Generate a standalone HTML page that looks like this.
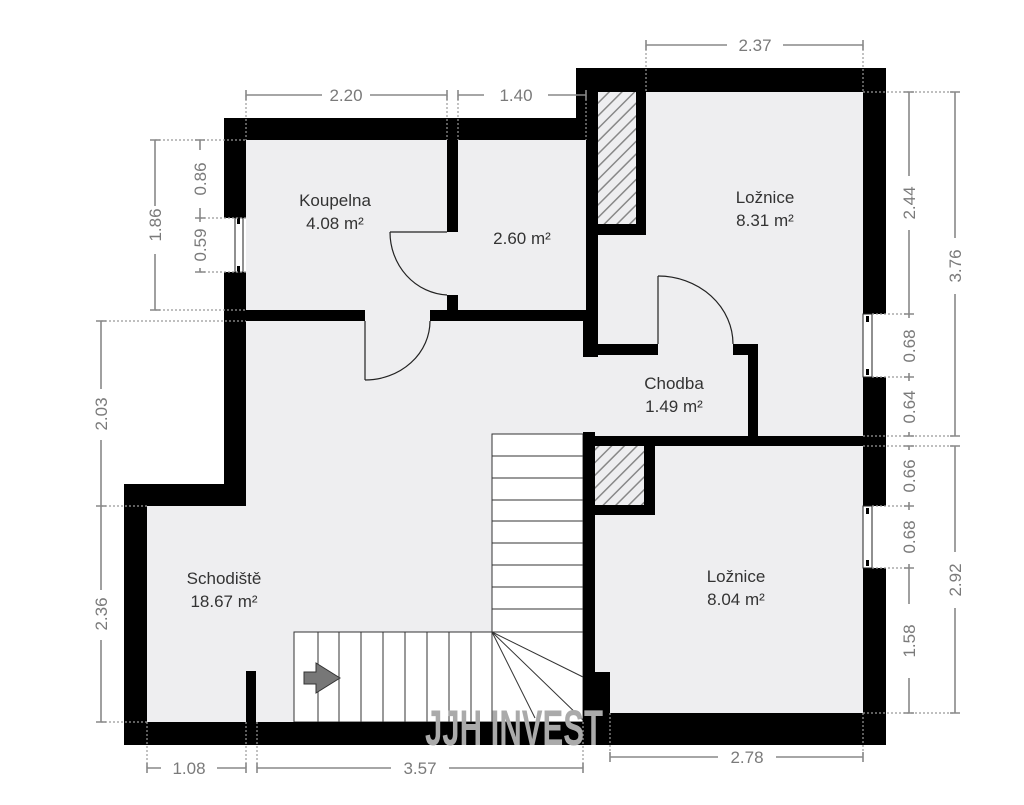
<!DOCTYPE html>
<html><head><meta charset="utf-8"><style>
html,body{margin:0;padding:0;background:#fff;}
svg{display:block;}
.lbl{font-family:"Liberation Sans",sans-serif;font-size:17px;fill:#333;text-anchor:middle;}
.dt{font-family:"Liberation Sans",sans-serif;font-size:17px;fill:#7a7a7a;text-anchor:middle;}
.dl{stroke:#888;stroke-width:1.6;fill:none;}
.dot{stroke:#999;stroke-width:1.2;stroke-dasharray:2 2;fill:none;}
.st{stroke:#333;stroke-width:1;fill:none;}
</style></head><body>
<svg width="1024" height="805" viewBox="0 0 1024 805" xmlns="http://www.w3.org/2000/svg">
<defs>
<pattern id="h" width="9" height="9" patternUnits="userSpaceOnUse" patternTransform="rotate(45)">
<rect width="9" height="9" fill="#eeeef0"/><line x1="0" y1="0" x2="0" y2="9" stroke="#888" stroke-width="3"/>
</pattern>
</defs>
<rect width="1024" height="805" fill="#fff"/>
<polygon points="246,140 586,140 586,92 863,92 863,713 610,713 610,722 147,722 147,506 246,506" fill="#eeeef0"/>
<rect x="492" y="434" width="91" height="198" fill="#fff" stroke="#333" stroke-width="1"/>
<rect x="294" y="632" width="289" height="90" fill="#fff" stroke="#333" stroke-width="1"/>
<g class="st">
<line x1="492" y1="456" x2="583" y2="456"/><line x1="492" y1="478" x2="583" y2="478"/>
<line x1="492" y1="500" x2="583" y2="500"/><line x1="492" y1="521" x2="583" y2="521"/>
<line x1="492" y1="543" x2="583" y2="543"/><line x1="492" y1="565" x2="583" y2="565"/>
<line x1="492" y1="587" x2="583" y2="587"/><line x1="492" y1="609" x2="583" y2="609"/>
<line x1="318" y1="632" x2="318" y2="722"/><line x1="339" y1="632" x2="339" y2="722"/>
<line x1="361" y1="632" x2="361" y2="722"/><line x1="383" y1="632" x2="383" y2="722"/>
<line x1="405" y1="632" x2="405" y2="722"/><line x1="427" y1="632" x2="427" y2="722"/>
<line x1="449" y1="632" x2="449" y2="722"/><line x1="471" y1="632" x2="471" y2="722"/>
<line x1="492" y1="632" x2="492" y2="722"/>
<line x1="492" y1="632" x2="583" y2="677"/><line x1="492" y1="632" x2="583" y2="720"/>
<line x1="492" y1="632" x2="535" y2="718"/>
</g>
<polygon points="304,672 316,672 316,663 340,678 316,693 316,684 304,684" fill="#777" stroke="#333" stroke-width="1"/>
<rect x="598" y="92" width="38" height="132" fill="url(#h)"/>
<rect x="594" y="446" width="50" height="59" fill="url(#h)"/>
<g fill="#000">
<rect x="224" y="118" width="362" height="22"/>
<rect x="576" y="68" width="310" height="24"/>
<rect x="576" y="68" width="22" height="72"/>
<rect x="224" y="118" width="22" height="100"/>
<rect x="224" y="272" width="22" height="234"/>
<rect x="124" y="484" width="122" height="22"/>
<rect x="124" y="484" width="23" height="261"/>
<rect x="124" y="722" width="486" height="23"/>
<rect x="583" y="713" width="303" height="32"/>
<rect x="863" y="68" width="23" height="246"/>
<rect x="863" y="377" width="23" height="129"/>
<rect x="863" y="568" width="23" height="177"/>
<rect x="586" y="92" width="12" height="265"/>
<rect x="583" y="320" width="15" height="37"/>
<rect x="636" y="92" width="10" height="143"/>
<rect x="598" y="224" width="48" height="11"/>
<rect x="598" y="344" width="60" height="11"/>
<rect x="733" y="344" width="25" height="11"/>
<rect x="748" y="344" width="10" height="92"/>
<rect x="583" y="436" width="303" height="10"/>
<rect x="583" y="432" width="12" height="281"/>
<rect x="583" y="672" width="27" height="50"/>
<rect x="644" y="446" width="11" height="69"/>
<rect x="594" y="505" width="61" height="10"/>
<rect x="246" y="310" width="119" height="11"/>
<rect x="430" y="310" width="156" height="11"/>
<rect x="447" y="140" width="11" height="92"/>
<rect x="447" y="295" width="11" height="15"/>
<rect x="246" y="671" width="10" height="51"/>
</g>
<g fill="#fff" stroke="#222" stroke-width="1">
<rect x="235" y="218" width="8" height="54"/>
<rect x="863" y="314" width="9" height="63"/>
<rect x="863" y="506" width="9" height="62"/>
</g>
<g fill="#000">
<rect x="237" y="218" width="3" height="6"/><rect x="237" y="266" width="3" height="6"/>
<rect x="866" y="316" width="3" height="6"/><rect x="866" y="369" width="3" height="6"/>
<rect x="866" y="508" width="3" height="6"/><rect x="866" y="560" width="3" height="6"/>
</g>
<g stroke="#222" stroke-width="1.2" fill="none">
<line x1="390" y1="232" x2="447" y2="232"/>
<path d="M390,232 A60,63 0 0 0 447,295"/>
<line x1="365" y1="321" x2="365" y2="380"/>
<path d="M365,380 A65,59 0 0 0 430,321"/>
<line x1="658" y1="276" x2="658" y2="344"/>
<path d="M658,276 A75,68 0 0 1 733,344"/>
</g>
<text x="425" y="745" font-family="Liberation Sans,sans-serif" font-weight="bold" font-size="50" fill="#aaa" textLength="178" lengthAdjust="spacingAndGlyphs">JJH INVEST</text>
<text class="lbl" x="335" y="206">Koupelna</text><text class="lbl" x="335" y="229">4.08 m²</text>
<text class="lbl" x="522" y="244">2.60 m²</text>
<text class="lbl" x="765" y="203">Ložnice</text><text class="lbl" x="765" y="226">8.31 m²</text>
<text class="lbl" x="674" y="389">Chodba</text><text class="lbl" x="674" y="412">1.49 m²</text>
<text class="lbl" x="224" y="584">Schodiště</text><text class="lbl" x="224" y="607">18.67 m²</text>
<text class="lbl" x="736" y="582">Ložnice</text><text class="lbl" x="736" y="605">8.04 m²</text>
<g class="dot">
<line x1="246" y1="95" x2="246" y2="140"/><line x1="447" y1="95" x2="447" y2="140"/>
<line x1="458" y1="95" x2="458" y2="140"/><line x1="586" y1="95" x2="586" y2="140"/>
<line x1="646" y1="45" x2="646" y2="92"/><line x1="863" y1="45" x2="863" y2="92"/>
<line x1="155" y1="140" x2="246" y2="140"/><line x1="155" y1="310" x2="246" y2="310"/>
<line x1="200" y1="218" x2="246" y2="218"/><line x1="200" y1="272" x2="246" y2="272"/>
<line x1="101" y1="321" x2="246" y2="321"/><line x1="101" y1="506" x2="147" y2="506"/>
<line x1="101" y1="722" x2="147" y2="722"/>
<line x1="147" y1="722" x2="147" y2="768"/><line x1="246" y1="722" x2="246" y2="768"/>
<line x1="257" y1="722" x2="257" y2="768"/><line x1="583" y1="722" x2="583" y2="768"/>
<line x1="610" y1="713" x2="610" y2="757"/><line x1="863" y1="713" x2="863" y2="757"/>
<line x1="863" y1="92" x2="955" y2="92"/><line x1="872" y1="314" x2="909" y2="314"/>
<line x1="872" y1="377" x2="909" y2="377"/><line x1="863" y1="436" x2="955" y2="436"/>
<line x1="863" y1="446" x2="955" y2="446"/><line x1="872" y1="506" x2="909" y2="506"/>
<line x1="872" y1="568" x2="909" y2="568"/><line x1="863" y1="713" x2="955" y2="713"/>
</g>
<g class="dl">
<path d="M246,90v10M447,90v10M246,95h76M370,95h77"/>
<path d="M458,90v10M586,90v10M458,95h26M548,95h38"/>
<path d="M646,40v10M863,40v10M646,45h81M783,45h80"/>
<path d="M150,140h10M150,310h10M155,140v66M155,254v56"/>
<path d="M195,140h10M195,218h10M200,140v10M200,208v10"/>
<path d="M195,272h10M200,218v4M200,268v4"/>
<path d="M96,321h10M96,506h10M101,321v68M101,440v66"/>
<path d="M96,722h10M101,506v84M101,640v82"/>
<path d="M147,763v10M246,763v10M147,768h14M217,768h29"/>
<path d="M257,763v10M583,763v10M257,768h134M449,768h134"/>
<path d="M610,752v10M863,752v10M610,757h108M776,757h87"/>
<path d="M904,92h10M904,314h10M909,92v84M909,230v84"/>
<path d="M904,377h10M909,314v4M909,373v4"/>
<path d="M904,436h10M909,377v4M909,432v4"/>
<path d="M950,92h10M950,436h10M955,92v146M955,294v142"/>
<path d="M904,446h10M904,506h10M909,446v4M909,502v4"/>
<path d="M904,568h10M909,506v4M909,564v4"/>
<path d="M904,713h10M909,568v36M909,678v35"/>
<path d="M950,446h10M950,713h10M955,446v106M955,608v105"/>
</g>
<text class="dt" x="346" y="101">2.20</text>
<text class="dt" x="516" y="101">1.40</text>
<text class="dt" x="755" y="51">2.37</text>
<text class="dt" x="189" y="774">1.08</text>
<text class="dt" x="420" y="774">3.57</text>
<text class="dt" x="747" y="763">2.78</text>
<g class="dt">
<text transform="translate(161,225) rotate(-90)">1.86</text>
<text transform="translate(206,179) rotate(-90)">0.86</text>
<text transform="translate(206,245) rotate(-90)">0.59</text>
<text transform="translate(107,414) rotate(-90)">2.03</text>
<text transform="translate(107,614) rotate(-90)">2.36</text>
<text transform="translate(915,203) rotate(-90)">2.44</text>
<text transform="translate(915,346) rotate(-90)">0.68</text>
<text transform="translate(915,407) rotate(-90)">0.64</text>
<text transform="translate(961,266) rotate(-90)">3.76</text>
<text transform="translate(915,476) rotate(-90)">0.66</text>
<text transform="translate(915,537) rotate(-90)">0.68</text>
<text transform="translate(915,641) rotate(-90)">1.58</text>
<text transform="translate(961,580) rotate(-90)">2.92</text>
</g>
</svg>
</body></html>
